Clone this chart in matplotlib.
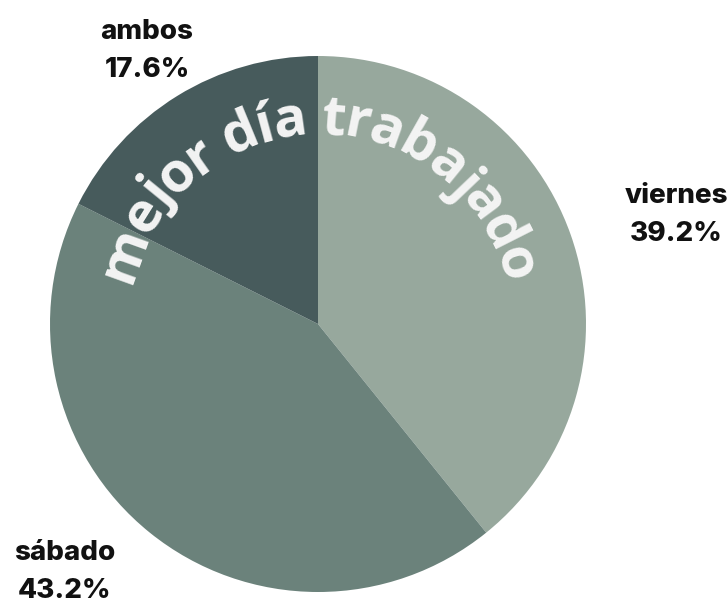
import matplotlib
matplotlib.use("Agg")
import matplotlib.pyplot as plt
import numpy as np
from matplotlib.font_manager import FontProperties, findfont, get_font
from matplotlib.ft2font import LOAD_NO_HINTING

categories = ["viernes", "sábado", "ambos"]
values = [39.2, 43.2, 17.6]
pct_labels = ["39.2%", "43.2%", "17.6%"]
colors = ["#97a89d", "#6b827b", "#475b5c"]
title_text = "mejor día trabajado"

W, H, DPI = 728, 605, 100
R_PX = 268.0
CX, CY = 318.0, 324.0

fig = plt.figure(figsize=(W / DPI, H / DPI), dpi=DPI)
ax = fig.add_axes([0, 0, 1, 1])

ax.pie(values, colors=colors, startangle=90, counterclock=False, radius=1.0,
       center=(0, 0), wedgeprops=dict(linewidth=0), frame=True)
ax.set_xlim(-CX / R_PX, (W - CX) / R_PX)
ax.set_ylim(-(H - CY) / R_PX, CY / R_PX)
ax.set_aspect("equal")
ax.axis("off")

# category labels
label_font = dict(family=["Inter", "DejaVu Sans"], weight=800, fontsize=20, color="#111111")
label_pos = {"viernes": (676, 196), "sábado": (65, 553), "ambos": (147, 32)}
for cat, pct in zip(categories, pct_labels):
    px, py = label_pos[cat]
    x = (px - CX) / R_PX
    y = (CY - py) / R_PX
    ax.text(x, y, cat, ha="center", va="center", **label_font)
    ax.text(x, y - 38 / R_PX, pct, ha="center", va="center", **label_font)

# curved title text
fsize = 40
fp = FontProperties(family="Open Sans", weight="bold", size=fsize)
font = get_font(findfont(fp))
font.set_size(fsize, DPI)
advs = []
for ch in title_text:
    g = font.load_char(ord(ch), flags=LOAD_NO_HINTING)
    advs.append(g.linearHoriAdvance / 65536.0)
advs = np.array(advs)
r_base = 190.0
r_space = r_base + 12.0
total = advs.sum()
starts = np.concatenate([[0], np.cumsum(advs)[:-1]])
centers = starts + advs / 2 - total / 2
for ch, s in zip(title_text, centers):
    theta = s / r_space  # clockwise from top, radians
    x = r_base * np.sin(theta) / R_PX
    y = r_base * np.cos(theta) / R_PX
    ax.text(x, y, ch, rotation=-np.degrees(theta), rotation_mode="anchor",
            ha="center", va="baseline", fontproperties=fp, color="#f4f4f4")

fig.savefig("out.png", dpi=DPI, facecolor="white")
